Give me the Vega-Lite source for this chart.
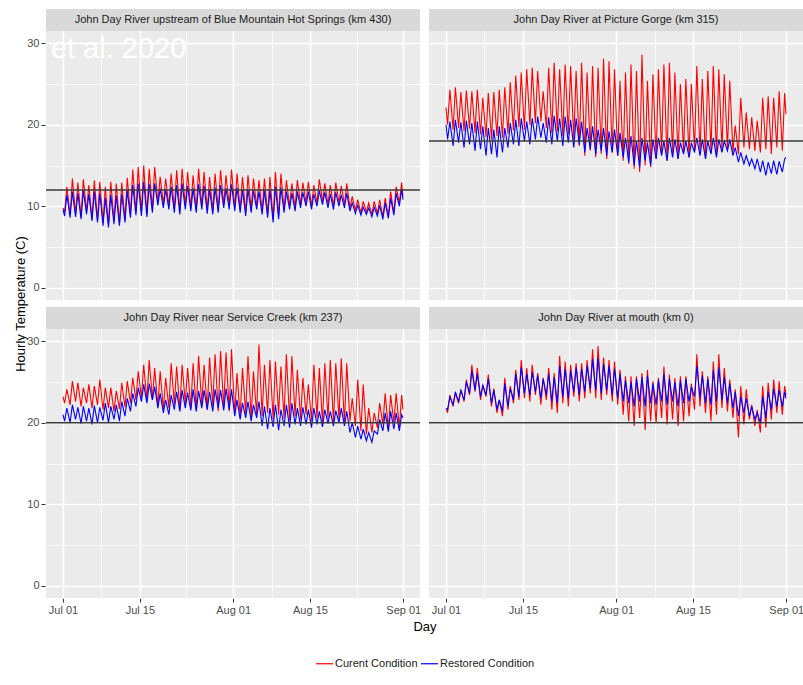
{
"$schema":"https://vega.github.io/schema/vega-lite/v6.json",
"background":"white",
"padding":{"left":14,"top":9,"right":0,"bottom":0},
"datasets":{"pos":[{"f":1,"r":1,"k":1},{"f":2,"r":1,"k":2},{"f":3,"r":2,"k":1},{"f":4,"r":2,"k":2}]},
"data":{"format":{"parse":{"t":"date:'%m-%d %H'"}},"values":[
{"f":1,"site":"John Day River upstream of Blue Mountain Hot Springs (km 430)","std":12,"note":"et al. 2020"},
{"f":2,"site":"John Day River at Picture Gorge (km 315)","std":18},
{"f":3,"site":"John Day River near Service Creek (km 237)","std":20},
{"f":4,"site":"John Day River at mouth (km 0)","std":20},
{"f":1,"c":"C","t":"07-01 00","y":9.8},
{"f":1,"c":"C","t":"07-01 07","y":9.3},{"f":1,"c":"C","t":"07-01 17","y":12.4},
{"f":1,"c":"C","t":"07-02 07","y":8.9},{"f":1,"c":"C","t":"07-02 17","y":13.4},
{"f":1,"c":"C","t":"07-03 07","y":9.0},{"f":1,"c":"C","t":"07-03 17","y":12.9},
{"f":1,"c":"C","t":"07-04 07","y":8.7},{"f":1,"c":"C","t":"07-04 17","y":13.3},
{"f":1,"c":"C","t":"07-05 07","y":9.4},{"f":1,"c":"C","t":"07-05 17","y":12.6},
{"f":1,"c":"C","t":"07-06 07","y":8.5},{"f":1,"c":"C","t":"07-06 17","y":13.2},
{"f":1,"c":"C","t":"07-07 07","y":8.3},{"f":1,"c":"C","t":"07-07 17","y":13.0},
{"f":1,"c":"C","t":"07-08 07","y":8.0},{"f":1,"c":"C","t":"07-08 17","y":12.4},
{"f":1,"c":"C","t":"07-09 07","y":7.8},{"f":1,"c":"C","t":"07-09 17","y":13.0},
{"f":1,"c":"C","t":"07-10 07","y":8.2},{"f":1,"c":"C","t":"07-10 17","y":12.8},
{"f":1,"c":"C","t":"07-11 07","y":7.9},{"f":1,"c":"C","t":"07-11 17","y":12.9},
{"f":1,"c":"C","t":"07-12 07","y":8.3},{"f":1,"c":"C","t":"07-12 17","y":13.5},
{"f":1,"c":"C","t":"07-13 07","y":9.0},{"f":1,"c":"C","t":"07-13 17","y":14.5},
{"f":1,"c":"C","t":"07-14 07","y":9.3},{"f":1,"c":"C","t":"07-14 17","y":14.8},
{"f":1,"c":"C","t":"07-15 07","y":9.2},{"f":1,"c":"C","t":"07-15 17","y":15.0},
{"f":1,"c":"C","t":"07-16 07","y":9.0},{"f":1,"c":"C","t":"07-16 17","y":14.6},
{"f":1,"c":"C","t":"07-17 07","y":9.6},{"f":1,"c":"C","t":"07-17 17","y":14.8},
{"f":1,"c":"C","t":"07-18 07","y":10.5},{"f":1,"c":"C","t":"07-18 17","y":13.6},
{"f":1,"c":"C","t":"07-19 07","y":10.2},{"f":1,"c":"C","t":"07-19 17","y":13.4},
{"f":1,"c":"C","t":"07-20 07","y":10.0},{"f":1,"c":"C","t":"07-20 17","y":14.0},
{"f":1,"c":"C","t":"07-21 07","y":9.6},{"f":1,"c":"C","t":"07-21 17","y":14.4},
{"f":1,"c":"C","t":"07-22 07","y":9.4},{"f":1,"c":"C","t":"07-22 17","y":14.6},
{"f":1,"c":"C","t":"07-23 07","y":10.0},{"f":1,"c":"C","t":"07-23 17","y":14.2},
{"f":1,"c":"C","t":"07-24 07","y":9.8},{"f":1,"c":"C","t":"07-24 17","y":13.8},
{"f":1,"c":"C","t":"07-25 07","y":9.6},{"f":1,"c":"C","t":"07-25 17","y":14.6},
{"f":1,"c":"C","t":"07-26 07","y":10.0},{"f":1,"c":"C","t":"07-26 17","y":14.2},
{"f":1,"c":"C","t":"07-27 07","y":9.5},{"f":1,"c":"C","t":"07-27 17","y":13.6},
{"f":1,"c":"C","t":"07-28 07","y":9.4},{"f":1,"c":"C","t":"07-28 17","y":14.0},
{"f":1,"c":"C","t":"07-29 07","y":9.6},{"f":1,"c":"C","t":"07-29 17","y":14.4},
{"f":1,"c":"C","t":"07-30 07","y":10.2},{"f":1,"c":"C","t":"07-30 17","y":13.8},
{"f":1,"c":"C","t":"07-31 07","y":10.0},{"f":1,"c":"C","t":"07-31 17","y":14.5},
{"f":1,"c":"C","t":"08-01 07","y":9.8},{"f":1,"c":"C","t":"08-01 17","y":14.0},
{"f":1,"c":"C","t":"08-02 07","y":9.6},{"f":1,"c":"C","t":"08-02 17","y":13.6},
{"f":1,"c":"C","t":"08-03 07","y":9.2},{"f":1,"c":"C","t":"08-03 17","y":13.8},
{"f":1,"c":"C","t":"08-04 07","y":9.6},{"f":1,"c":"C","t":"08-04 17","y":13.4},
{"f":1,"c":"C","t":"08-05 07","y":10.0},{"f":1,"c":"C","t":"08-05 17","y":13.2},
{"f":1,"c":"C","t":"08-06 07","y":9.4},{"f":1,"c":"C","t":"08-06 17","y":13.4},
{"f":1,"c":"C","t":"08-07 07","y":9.0},{"f":1,"c":"C","t":"08-07 17","y":13.6},
{"f":1,"c":"C","t":"08-08 07","y":8.4},{"f":1,"c":"C","t":"08-08 17","y":14.2},
{"f":1,"c":"C","t":"08-09 07","y":8.8},{"f":1,"c":"C","t":"08-09 17","y":14.0},
{"f":1,"c":"C","t":"08-10 07","y":9.6},{"f":1,"c":"C","t":"08-10 17","y":13.2},
{"f":1,"c":"C","t":"08-11 07","y":10.0},{"f":1,"c":"C","t":"08-11 17","y":12.8},
{"f":1,"c":"C","t":"08-12 07","y":9.8},{"f":1,"c":"C","t":"08-12 17","y":13.2},
{"f":1,"c":"C","t":"08-13 07","y":10.2},{"f":1,"c":"C","t":"08-13 17","y":12.9},
{"f":1,"c":"C","t":"08-14 07","y":10.4},{"f":1,"c":"C","t":"08-14 17","y":13.0},
{"f":1,"c":"C","t":"08-15 07","y":10.0},{"f":1,"c":"C","t":"08-15 17","y":12.6},
{"f":1,"c":"C","t":"08-16 07","y":10.4},{"f":1,"c":"C","t":"08-16 17","y":13.3},
{"f":1,"c":"C","t":"08-17 07","y":10.6},{"f":1,"c":"C","t":"08-17 17","y":12.8},
{"f":1,"c":"C","t":"08-18 07","y":10.2},{"f":1,"c":"C","t":"08-18 17","y":12.6},
{"f":1,"c":"C","t":"08-19 07","y":10.0},{"f":1,"c":"C","t":"08-19 17","y":12.9},
{"f":1,"c":"C","t":"08-20 07","y":10.4},{"f":1,"c":"C","t":"08-20 17","y":12.5},
{"f":1,"c":"C","t":"08-21 07","y":10.2},{"f":1,"c":"C","t":"08-21 17","y":12.8},
{"f":1,"c":"C","t":"08-22 07","y":9.8},{"f":1,"c":"C","t":"08-22 17","y":11.2},
{"f":1,"c":"C","t":"08-23 07","y":9.5},{"f":1,"c":"C","t":"08-23 17","y":10.8},
{"f":1,"c":"C","t":"08-24 07","y":9.2},{"f":1,"c":"C","t":"08-24 17","y":10.6},
{"f":1,"c":"C","t":"08-25 07","y":9.3},{"f":1,"c":"C","t":"08-25 17","y":10.4},
{"f":1,"c":"C","t":"08-26 07","y":9.0},{"f":1,"c":"C","t":"08-26 17","y":10.6},
{"f":1,"c":"C","t":"08-27 07","y":9.1},{"f":1,"c":"C","t":"08-27 17","y":10.8},
{"f":1,"c":"C","t":"08-28 07","y":8.7},{"f":1,"c":"C","t":"08-28 17","y":11.0},
{"f":1,"c":"C","t":"08-29 07","y":8.8},{"f":1,"c":"C","t":"08-29 17","y":11.8},
{"f":1,"c":"C","t":"08-30 07","y":9.2},{"f":1,"c":"C","t":"08-30 17","y":12.4},
{"f":1,"c":"C","t":"08-31 07","y":10.4},{"f":1,"c":"C","t":"08-31 17","y":12.9},
{"f":1,"c":"C","t":"08-31 23","y":11.2},
{"f":1,"c":"R","t":"07-01 00","y":9.6},
{"f":1,"c":"R","t":"07-01 07","y":8.8},{"f":1,"c":"R","t":"07-01 17","y":11.4},
{"f":1,"c":"R","t":"07-02 07","y":8.6},{"f":1,"c":"R","t":"07-02 17","y":11.8},
{"f":1,"c":"R","t":"07-03 07","y":8.7},{"f":1,"c":"R","t":"07-03 17","y":11.6},
{"f":1,"c":"R","t":"07-04 07","y":8.4},{"f":1,"c":"R","t":"07-04 17","y":11.9},
{"f":1,"c":"R","t":"07-05 07","y":9.0},{"f":1,"c":"R","t":"07-05 17","y":11.5},
{"f":1,"c":"R","t":"07-06 07","y":8.2},{"f":1,"c":"R","t":"07-06 17","y":11.8},
{"f":1,"c":"R","t":"07-07 07","y":8.0},{"f":1,"c":"R","t":"07-07 17","y":11.6},
{"f":1,"c":"R","t":"07-08 07","y":7.6},{"f":1,"c":"R","t":"07-08 17","y":11.0},
{"f":1,"c":"R","t":"07-09 07","y":7.4},{"f":1,"c":"R","t":"07-09 17","y":11.4},
{"f":1,"c":"R","t":"07-10 07","y":7.8},{"f":1,"c":"R","t":"07-10 17","y":11.3},
{"f":1,"c":"R","t":"07-11 07","y":7.6},{"f":1,"c":"R","t":"07-11 17","y":11.5},
{"f":1,"c":"R","t":"07-12 07","y":8.0},{"f":1,"c":"R","t":"07-12 17","y":11.9},
{"f":1,"c":"R","t":"07-13 07","y":8.6},{"f":1,"c":"R","t":"07-13 17","y":12.6},
{"f":1,"c":"R","t":"07-14 07","y":8.9},{"f":1,"c":"R","t":"07-14 17","y":12.8},
{"f":1,"c":"R","t":"07-15 07","y":8.8},{"f":1,"c":"R","t":"07-15 17","y":13.0},
{"f":1,"c":"R","t":"07-16 07","y":8.7},{"f":1,"c":"R","t":"07-16 17","y":12.7},
{"f":1,"c":"R","t":"07-17 07","y":9.2},{"f":1,"c":"R","t":"07-17 17","y":12.8},
{"f":1,"c":"R","t":"07-18 07","y":10.1},{"f":1,"c":"R","t":"07-18 17","y":12.2},
{"f":1,"c":"R","t":"07-19 07","y":9.8},{"f":1,"c":"R","t":"07-19 17","y":12.1},
{"f":1,"c":"R","t":"07-20 07","y":9.6},{"f":1,"c":"R","t":"07-20 17","y":12.4},
{"f":1,"c":"R","t":"07-21 07","y":9.2},{"f":1,"c":"R","t":"07-21 17","y":12.6},
{"f":1,"c":"R","t":"07-22 07","y":9.0},{"f":1,"c":"R","t":"07-22 17","y":12.8},
{"f":1,"c":"R","t":"07-23 07","y":9.6},{"f":1,"c":"R","t":"07-23 17","y":12.5},
{"f":1,"c":"R","t":"07-24 07","y":9.4},{"f":1,"c":"R","t":"07-24 17","y":12.2},
{"f":1,"c":"R","t":"07-25 07","y":9.2},{"f":1,"c":"R","t":"07-25 17","y":12.7},
{"f":1,"c":"R","t":"07-26 07","y":9.6},{"f":1,"c":"R","t":"07-26 17","y":12.5},
{"f":1,"c":"R","t":"07-27 07","y":9.1},{"f":1,"c":"R","t":"07-27 17","y":12.1},
{"f":1,"c":"R","t":"07-28 07","y":9.0},{"f":1,"c":"R","t":"07-28 17","y":12.3},
{"f":1,"c":"R","t":"07-29 07","y":9.2},{"f":1,"c":"R","t":"07-29 17","y":12.6},
{"f":1,"c":"R","t":"07-30 07","y":9.8},{"f":1,"c":"R","t":"07-30 17","y":12.2},
{"f":1,"c":"R","t":"07-31 07","y":9.6},{"f":1,"c":"R","t":"07-31 17","y":12.7},
{"f":1,"c":"R","t":"08-01 07","y":9.4},{"f":1,"c":"R","t":"08-01 17","y":12.3},
{"f":1,"c":"R","t":"08-02 07","y":9.2},{"f":1,"c":"R","t":"08-02 17","y":12.0},
{"f":1,"c":"R","t":"08-03 07","y":8.8},{"f":1,"c":"R","t":"08-03 17","y":12.1},
{"f":1,"c":"R","t":"08-04 07","y":9.2},{"f":1,"c":"R","t":"08-04 17","y":11.9},
{"f":1,"c":"R","t":"08-05 07","y":9.6},{"f":1,"c":"R","t":"08-05 17","y":11.8},
{"f":1,"c":"R","t":"08-06 07","y":9.0},{"f":1,"c":"R","t":"08-06 17","y":11.9},
{"f":1,"c":"R","t":"08-07 07","y":8.6},{"f":1,"c":"R","t":"08-07 17","y":12.0},
{"f":1,"c":"R","t":"08-08 07","y":8.0},{"f":1,"c":"R","t":"08-08 17","y":12.4},
{"f":1,"c":"R","t":"08-09 07","y":8.4},{"f":1,"c":"R","t":"08-09 17","y":12.3},
{"f":1,"c":"R","t":"08-10 07","y":9.2},{"f":1,"c":"R","t":"08-10 17","y":11.8},
{"f":1,"c":"R","t":"08-11 07","y":9.6},{"f":1,"c":"R","t":"08-11 17","y":11.6},
{"f":1,"c":"R","t":"08-12 07","y":9.4},{"f":1,"c":"R","t":"08-12 17","y":11.8},
{"f":1,"c":"R","t":"08-13 07","y":9.8},{"f":1,"c":"R","t":"08-13 17","y":11.7},
{"f":1,"c":"R","t":"08-14 07","y":10.0},{"f":1,"c":"R","t":"08-14 17","y":11.8},
{"f":1,"c":"R","t":"08-15 07","y":9.6},{"f":1,"c":"R","t":"08-15 17","y":11.5},
{"f":1,"c":"R","t":"08-16 07","y":10.0},{"f":1,"c":"R","t":"08-16 17","y":11.9},
{"f":1,"c":"R","t":"08-17 07","y":10.2},{"f":1,"c":"R","t":"08-17 17","y":11.7},
{"f":1,"c":"R","t":"08-18 07","y":9.8},{"f":1,"c":"R","t":"08-18 17","y":11.5},
{"f":1,"c":"R","t":"08-19 07","y":9.6},{"f":1,"c":"R","t":"08-19 17","y":11.7},
{"f":1,"c":"R","t":"08-20 07","y":10.0},{"f":1,"c":"R","t":"08-20 17","y":11.4},
{"f":1,"c":"R","t":"08-21 07","y":9.8},{"f":1,"c":"R","t":"08-21 17","y":11.6},
{"f":1,"c":"R","t":"08-22 07","y":9.4},{"f":1,"c":"R","t":"08-22 17","y":10.4},
{"f":1,"c":"R","t":"08-23 07","y":9.1},{"f":1,"c":"R","t":"08-23 17","y":10.1},
{"f":1,"c":"R","t":"08-24 07","y":8.9},{"f":1,"c":"R","t":"08-24 17","y":9.9},
{"f":1,"c":"R","t":"08-25 07","y":9.0},{"f":1,"c":"R","t":"08-25 17","y":9.8},
{"f":1,"c":"R","t":"08-26 07","y":8.7},{"f":1,"c":"R","t":"08-26 17","y":9.9},
{"f":1,"c":"R","t":"08-27 07","y":8.8},{"f":1,"c":"R","t":"08-27 17","y":10.1},
{"f":1,"c":"R","t":"08-28 07","y":8.4},{"f":1,"c":"R","t":"08-28 17","y":10.4},
{"f":1,"c":"R","t":"08-29 07","y":8.5},{"f":1,"c":"R","t":"08-29 17","y":11.0},
{"f":1,"c":"R","t":"08-30 07","y":8.9},{"f":1,"c":"R","t":"08-30 17","y":11.6},
{"f":1,"c":"R","t":"08-31 07","y":10.0},{"f":1,"c":"R","t":"08-31 17","y":12.1},
{"f":1,"c":"R","t":"08-31 23","y":10.8},
{"f":2,"c":"C","t":"07-01 00","y":22.1},
{"f":2,"c":"C","t":"07-01 07","y":20.0},{"f":2,"c":"C","t":"07-01 17","y":24.3},
{"f":2,"c":"C","t":"07-02 07","y":19.4},{"f":2,"c":"C","t":"07-02 17","y":24.6},
{"f":2,"c":"C","t":"07-03 07","y":19.6},{"f":2,"c":"C","t":"07-03 17","y":24.0},
{"f":2,"c":"C","t":"07-04 07","y":19.2},{"f":2,"c":"C","t":"07-04 17","y":24.2},
{"f":2,"c":"C","t":"07-05 07","y":19.5},{"f":2,"c":"C","t":"07-05 17","y":24.1},
{"f":2,"c":"C","t":"07-06 07","y":19.0},{"f":2,"c":"C","t":"07-06 17","y":24.3},
{"f":2,"c":"C","t":"07-07 07","y":18.8},{"f":2,"c":"C","t":"07-07 17","y":23.3},
{"f":2,"c":"C","t":"07-08 07","y":18.5},{"f":2,"c":"C","t":"07-08 17","y":23.9},
{"f":2,"c":"C","t":"07-09 07","y":18.2},{"f":2,"c":"C","t":"07-09 17","y":24.0},
{"f":2,"c":"C","t":"07-10 07","y":18.6},{"f":2,"c":"C","t":"07-10 17","y":24.3},
{"f":2,"c":"C","t":"07-11 07","y":18.4},{"f":2,"c":"C","t":"07-11 17","y":24.6},
{"f":2,"c":"C","t":"07-12 07","y":18.9},{"f":2,"c":"C","t":"07-12 17","y":25.2},
{"f":2,"c":"C","t":"07-13 07","y":19.3},{"f":2,"c":"C","t":"07-13 17","y":26.0},
{"f":2,"c":"C","t":"07-14 07","y":19.7},{"f":2,"c":"C","t":"07-14 17","y":26.4},
{"f":2,"c":"C","t":"07-15 07","y":19.4},{"f":2,"c":"C","t":"07-15 17","y":26.8},
{"f":2,"c":"C","t":"07-16 07","y":19.9},{"f":2,"c":"C","t":"07-16 17","y":27.0},
{"f":2,"c":"C","t":"07-17 07","y":20.2},{"f":2,"c":"C","t":"07-17 17","y":26.6},
{"f":2,"c":"C","t":"07-18 07","y":20.4},{"f":2,"c":"C","t":"07-18 17","y":24.1},
{"f":2,"c":"C","t":"07-19 07","y":19.6},{"f":2,"c":"C","t":"07-19 17","y":27.0},
{"f":2,"c":"C","t":"07-20 07","y":19.0},{"f":2,"c":"C","t":"07-20 17","y":27.6},
{"f":2,"c":"C","t":"07-21 07","y":19.2},{"f":2,"c":"C","t":"07-21 17","y":26.8},
{"f":2,"c":"C","t":"07-22 07","y":18.6},{"f":2,"c":"C","t":"07-22 17","y":27.4},
{"f":2,"c":"C","t":"07-23 07","y":18.8},{"f":2,"c":"C","t":"07-23 17","y":27.2},
{"f":2,"c":"C","t":"07-24 07","y":18.2},{"f":2,"c":"C","t":"07-24 17","y":26.6},
{"f":2,"c":"C","t":"07-25 07","y":17.4},{"f":2,"c":"C","t":"07-25 17","y":27.6},
{"f":2,"c":"C","t":"07-26 07","y":16.2},{"f":2,"c":"C","t":"07-26 17","y":26.4},
{"f":2,"c":"C","t":"07-27 07","y":16.8},{"f":2,"c":"C","t":"07-27 17","y":27.2},
{"f":2,"c":"C","t":"07-28 07","y":16.0},{"f":2,"c":"C","t":"07-28 17","y":27.0},
{"f":2,"c":"C","t":"07-29 07","y":16.4},{"f":2,"c":"C","t":"07-29 17","y":28.1},
{"f":2,"c":"C","t":"07-30 07","y":15.8},{"f":2,"c":"C","t":"07-30 17","y":27.8},
{"f":2,"c":"C","t":"07-31 07","y":16.6},{"f":2,"c":"C","t":"07-31 17","y":26.8},
{"f":2,"c":"C","t":"08-01 07","y":16.2},{"f":2,"c":"C","t":"08-01 17","y":25.4},
{"f":2,"c":"C","t":"08-02 07","y":15.6},{"f":2,"c":"C","t":"08-02 17","y":26.4},
{"f":2,"c":"C","t":"08-03 07","y":15.2},{"f":2,"c":"C","t":"08-03 17","y":27.4},
{"f":2,"c":"C","t":"08-04 07","y":14.6},{"f":2,"c":"C","t":"08-04 17","y":26.6},
{"f":2,"c":"C","t":"08-05 07","y":14.2},{"f":2,"c":"C","t":"08-05 17","y":28.6},
{"f":2,"c":"C","t":"08-06 07","y":15.0},{"f":2,"c":"C","t":"08-06 17","y":25.4},
{"f":2,"c":"C","t":"08-07 07","y":14.8},{"f":2,"c":"C","t":"08-07 17","y":26.2},
{"f":2,"c":"C","t":"08-08 07","y":15.8},{"f":2,"c":"C","t":"08-08 17","y":26.8},
{"f":2,"c":"C","t":"08-09 07","y":16.4},{"f":2,"c":"C","t":"08-09 17","y":27.4},
{"f":2,"c":"C","t":"08-10 07","y":15.6},{"f":2,"c":"C","t":"08-10 17","y":27.6},
{"f":2,"c":"C","t":"08-11 07","y":16.2},{"f":2,"c":"C","t":"08-11 17","y":26.4},
{"f":2,"c":"C","t":"08-12 07","y":15.8},{"f":2,"c":"C","t":"08-12 17","y":25.0},
{"f":2,"c":"C","t":"08-13 07","y":16.6},{"f":2,"c":"C","t":"08-13 17","y":25.6},
{"f":2,"c":"C","t":"08-14 07","y":16.0},{"f":2,"c":"C","t":"08-14 17","y":25.0},
{"f":2,"c":"C","t":"08-15 07","y":16.8},{"f":2,"c":"C","t":"08-15 17","y":27.2},
{"f":2,"c":"C","t":"08-16 07","y":16.4},{"f":2,"c":"C","t":"08-16 17","y":25.6},
{"f":2,"c":"C","t":"08-17 07","y":15.8},{"f":2,"c":"C","t":"08-17 17","y":26.6},
{"f":2,"c":"C","t":"08-18 07","y":16.6},{"f":2,"c":"C","t":"08-18 17","y":27.2},
{"f":2,"c":"C","t":"08-19 07","y":16.2},{"f":2,"c":"C","t":"08-19 17","y":26.8},
{"f":2,"c":"C","t":"08-20 07","y":16.8},{"f":2,"c":"C","t":"08-20 17","y":26.2},
{"f":2,"c":"C","t":"08-21 07","y":17.0},{"f":2,"c":"C","t":"08-21 17","y":25.4},
{"f":2,"c":"C","t":"08-22 07","y":16.6},{"f":2,"c":"C","t":"08-22 17","y":19.9},
{"f":2,"c":"C","t":"08-23 07","y":16.4},{"f":2,"c":"C","t":"08-23 17","y":23.3},
{"f":2,"c":"C","t":"08-24 07","y":17.2},{"f":2,"c":"C","t":"08-24 17","y":21.5},
{"f":2,"c":"C","t":"08-25 07","y":17.0},{"f":2,"c":"C","t":"08-25 17","y":20.9},
{"f":2,"c":"C","t":"08-26 07","y":16.8},{"f":2,"c":"C","t":"08-26 17","y":20.5},
{"f":2,"c":"C","t":"08-27 07","y":16.6},{"f":2,"c":"C","t":"08-27 17","y":23.3},
{"f":2,"c":"C","t":"08-28 07","y":17.0},{"f":2,"c":"C","t":"08-28 17","y":23.5},
{"f":2,"c":"C","t":"08-29 07","y":16.4},{"f":2,"c":"C","t":"08-29 17","y":23.3},
{"f":2,"c":"C","t":"08-30 07","y":17.2},{"f":2,"c":"C","t":"08-30 17","y":24.1},
{"f":2,"c":"C","t":"08-31 07","y":16.8},{"f":2,"c":"C","t":"08-31 17","y":23.9},
{"f":2,"c":"C","t":"08-31 23","y":21.3},
{"f":2,"c":"R","t":"07-01 00","y":20.0},
{"f":2,"c":"R","t":"07-01 07","y":18.2},{"f":2,"c":"R","t":"07-01 17","y":20.4},
{"f":2,"c":"R","t":"07-02 07","y":17.4},{"f":2,"c":"R","t":"07-02 17","y":20.6},
{"f":2,"c":"R","t":"07-03 07","y":17.8},{"f":2,"c":"R","t":"07-03 17","y":20.3},
{"f":2,"c":"R","t":"07-04 07","y":17.2},{"f":2,"c":"R","t":"07-04 17","y":20.5},
{"f":2,"c":"R","t":"07-05 07","y":17.6},{"f":2,"c":"R","t":"07-05 17","y":20.2},
{"f":2,"c":"R","t":"07-06 07","y":16.8},{"f":2,"c":"R","t":"07-06 17","y":20.4},
{"f":2,"c":"R","t":"07-07 07","y":17.0},{"f":2,"c":"R","t":"07-07 17","y":19.8},
{"f":2,"c":"R","t":"07-08 07","y":16.2},{"f":2,"c":"R","t":"07-08 17","y":19.6},
{"f":2,"c":"R","t":"07-09 07","y":16.4},{"f":2,"c":"R","t":"07-09 17","y":19.4},
{"f":2,"c":"R","t":"07-10 07","y":16.0},{"f":2,"c":"R","t":"07-10 17","y":19.8},
{"f":2,"c":"R","t":"07-11 07","y":16.6},{"f":2,"c":"R","t":"07-11 17","y":19.6},
{"f":2,"c":"R","t":"07-12 07","y":17.2},{"f":2,"c":"R","t":"07-12 17","y":20.2},
{"f":2,"c":"R","t":"07-13 07","y":17.6},{"f":2,"c":"R","t":"07-13 17","y":20.6},
{"f":2,"c":"R","t":"07-14 07","y":17.4},{"f":2,"c":"R","t":"07-14 17","y":20.8},
{"f":2,"c":"R","t":"07-15 07","y":18.0},{"f":2,"c":"R","t":"07-15 17","y":20.4},
{"f":2,"c":"R","t":"07-16 07","y":17.6},{"f":2,"c":"R","t":"07-16 17","y":20.8},
{"f":2,"c":"R","t":"07-17 07","y":18.2},{"f":2,"c":"R","t":"07-17 17","y":21.0},
{"f":2,"c":"R","t":"07-18 07","y":18.4},{"f":2,"c":"R","t":"07-18 17","y":20.2},
{"f":2,"c":"R","t":"07-19 07","y":17.8},{"f":2,"c":"R","t":"07-19 17","y":20.9},
{"f":2,"c":"R","t":"07-20 07","y":17.6},{"f":2,"c":"R","t":"07-20 17","y":21.1},
{"f":2,"c":"R","t":"07-21 07","y":18.0},{"f":2,"c":"R","t":"07-21 17","y":20.8},
{"f":2,"c":"R","t":"07-22 07","y":17.4},{"f":2,"c":"R","t":"07-22 17","y":21.0},
{"f":2,"c":"R","t":"07-23 07","y":17.8},{"f":2,"c":"R","t":"07-23 17","y":20.6},
{"f":2,"c":"R","t":"07-24 07","y":17.2},{"f":2,"c":"R","t":"07-24 17","y":20.8},
{"f":2,"c":"R","t":"07-25 07","y":17.6},{"f":2,"c":"R","t":"07-25 17","y":20.4},
{"f":2,"c":"R","t":"07-26 07","y":16.6},{"f":2,"c":"R","t":"07-26 17","y":19.6},
{"f":2,"c":"R","t":"07-27 07","y":17.0},{"f":2,"c":"R","t":"07-27 17","y":19.8},
{"f":2,"c":"R","t":"07-28 07","y":16.4},{"f":2,"c":"R","t":"07-28 17","y":19.4},
{"f":2,"c":"R","t":"07-29 07","y":16.8},{"f":2,"c":"R","t":"07-29 17","y":19.6},
{"f":2,"c":"R","t":"07-30 07","y":16.2},{"f":2,"c":"R","t":"07-30 17","y":19.2},
{"f":2,"c":"R","t":"07-31 07","y":16.6},{"f":2,"c":"R","t":"07-31 17","y":19.4},
{"f":2,"c":"R","t":"08-01 07","y":16.2},{"f":2,"c":"R","t":"08-01 17","y":19.0},
{"f":2,"c":"R","t":"08-02 07","y":16.0},{"f":2,"c":"R","t":"08-02 17","y":18.4},
{"f":2,"c":"R","t":"08-03 07","y":15.4},{"f":2,"c":"R","t":"08-03 17","y":18.6},
{"f":2,"c":"R","t":"08-04 07","y":15.0},{"f":2,"c":"R","t":"08-04 17","y":18.0},
{"f":2,"c":"R","t":"08-05 07","y":14.8},{"f":2,"c":"R","t":"08-05 17","y":18.4},
{"f":2,"c":"R","t":"08-06 07","y":15.6},{"f":2,"c":"R","t":"08-06 17","y":17.8},
{"f":2,"c":"R","t":"08-07 07","y":15.0},{"f":2,"c":"R","t":"08-07 17","y":18.2},
{"f":2,"c":"R","t":"08-08 07","y":15.8},{"f":2,"c":"R","t":"08-08 17","y":18.4},
{"f":2,"c":"R","t":"08-09 07","y":16.2},{"f":2,"c":"R","t":"08-09 17","y":18.0},
{"f":2,"c":"R","t":"08-10 07","y":15.6},{"f":2,"c":"R","t":"08-10 17","y":18.4},
{"f":2,"c":"R","t":"08-11 07","y":16.0},{"f":2,"c":"R","t":"08-11 17","y":18.2},
{"f":2,"c":"R","t":"08-12 07","y":15.8},{"f":2,"c":"R","t":"08-12 17","y":17.8},
{"f":2,"c":"R","t":"08-13 07","y":16.4},{"f":2,"c":"R","t":"08-13 17","y":18.0},
{"f":2,"c":"R","t":"08-14 07","y":16.0},{"f":2,"c":"R","t":"08-14 17","y":17.8},
{"f":2,"c":"R","t":"08-15 07","y":16.6},{"f":2,"c":"R","t":"08-15 17","y":18.4},
{"f":2,"c":"R","t":"08-16 07","y":16.2},{"f":2,"c":"R","t":"08-16 17","y":18.2},
{"f":2,"c":"R","t":"08-17 07","y":15.8},{"f":2,"c":"R","t":"08-17 17","y":18.0},
{"f":2,"c":"R","t":"08-18 07","y":16.4},{"f":2,"c":"R","t":"08-18 17","y":18.4},
{"f":2,"c":"R","t":"08-19 07","y":16.0},{"f":2,"c":"R","t":"08-19 17","y":18.2},
{"f":2,"c":"R","t":"08-20 07","y":16.6},{"f":2,"c":"R","t":"08-20 17","y":18.0},
{"f":2,"c":"R","t":"08-21 07","y":16.8},{"f":2,"c":"R","t":"08-21 17","y":18.2},
{"f":2,"c":"R","t":"08-22 07","y":16.2},{"f":2,"c":"R","t":"08-22 17","y":17.2},
{"f":2,"c":"R","t":"08-23 07","y":15.4},{"f":2,"c":"R","t":"08-23 17","y":16.6},
{"f":2,"c":"R","t":"08-24 07","y":15.2},{"f":2,"c":"R","t":"08-24 17","y":16.2},
{"f":2,"c":"R","t":"08-25 07","y":15.0},{"f":2,"c":"R","t":"08-25 17","y":15.8},
{"f":2,"c":"R","t":"08-26 07","y":14.6},{"f":2,"c":"R","t":"08-26 17","y":15.8},
{"f":2,"c":"R","t":"08-27 07","y":14.2},{"f":2,"c":"R","t":"08-27 17","y":15.6},
{"f":2,"c":"R","t":"08-28 07","y":13.8},{"f":2,"c":"R","t":"08-28 17","y":15.4},
{"f":2,"c":"R","t":"08-29 07","y":14.0},{"f":2,"c":"R","t":"08-29 17","y":15.6},
{"f":2,"c":"R","t":"08-30 07","y":13.9},{"f":2,"c":"R","t":"08-30 17","y":15.5},
{"f":2,"c":"R","t":"08-31 07","y":14.2},{"f":2,"c":"R","t":"08-31 17","y":15.8},
{"f":2,"c":"R","t":"08-31 23","y":16.0},
{"f":3,"c":"C","t":"07-01 00","y":23.2},
{"f":3,"c":"C","t":"07-01 07","y":22.4},{"f":3,"c":"C","t":"07-01 17","y":24.1},
{"f":3,"c":"C","t":"07-02 07","y":22.2},{"f":3,"c":"C","t":"07-02 17","y":25.1},
{"f":3,"c":"C","t":"07-03 07","y":22.6},{"f":3,"c":"C","t":"07-03 17","y":24.9},
{"f":3,"c":"C","t":"07-04 07","y":22.0},{"f":3,"c":"C","t":"07-04 17","y":24.3},
{"f":3,"c":"C","t":"07-05 07","y":22.4},{"f":3,"c":"C","t":"07-05 17","y":24.7},
{"f":3,"c":"C","t":"07-06 07","y":21.8},{"f":3,"c":"C","t":"07-06 17","y":24.5},
{"f":3,"c":"C","t":"07-07 07","y":22.2},{"f":3,"c":"C","t":"07-07 17","y":25.3},
{"f":3,"c":"C","t":"07-08 07","y":21.6},{"f":3,"c":"C","t":"07-08 17","y":24.3},
{"f":3,"c":"C","t":"07-09 07","y":21.8},{"f":3,"c":"C","t":"07-09 17","y":24.3},
{"f":3,"c":"C","t":"07-10 07","y":21.4},{"f":3,"c":"C","t":"07-10 17","y":23.9},
{"f":3,"c":"C","t":"07-11 07","y":21.7},{"f":3,"c":"C","t":"07-11 17","y":24.9},
{"f":3,"c":"C","t":"07-12 07","y":21.9},{"f":3,"c":"C","t":"07-12 17","y":25.1},
{"f":3,"c":"C","t":"07-13 07","y":22.4},{"f":3,"c":"C","t":"07-13 17","y":25.5},
{"f":3,"c":"C","t":"07-14 07","y":22.8},{"f":3,"c":"C","t":"07-14 17","y":26.3},
{"f":3,"c":"C","t":"07-15 07","y":23.1},{"f":3,"c":"C","t":"07-15 17","y":27.1},
{"f":3,"c":"C","t":"07-16 07","y":22.7},{"f":3,"c":"C","t":"07-16 17","y":27.7},
{"f":3,"c":"C","t":"07-17 07","y":22.9},{"f":3,"c":"C","t":"07-17 17","y":26.7},
{"f":3,"c":"C","t":"07-18 07","y":22.0},{"f":3,"c":"C","t":"07-18 17","y":26.3},
{"f":3,"c":"C","t":"07-19 07","y":21.6},{"f":3,"c":"C","t":"07-19 17","y":25.5},
{"f":3,"c":"C","t":"07-20 07","y":21.8},{"f":3,"c":"C","t":"07-20 17","y":27.3},
{"f":3,"c":"C","t":"07-21 07","y":22.2},{"f":3,"c":"C","t":"07-21 17","y":26.9},
{"f":3,"c":"C","t":"07-22 07","y":21.6},{"f":3,"c":"C","t":"07-22 17","y":27.1},
{"f":3,"c":"C","t":"07-23 07","y":22.4},{"f":3,"c":"C","t":"07-23 17","y":26.7},
{"f":3,"c":"C","t":"07-24 07","y":21.8},{"f":3,"c":"C","t":"07-24 17","y":27.3},
{"f":3,"c":"C","t":"07-25 07","y":21.5},{"f":3,"c":"C","t":"07-25 17","y":28.2},
{"f":3,"c":"C","t":"07-26 07","y":22.2},{"f":3,"c":"C","t":"07-26 17","y":27.1},
{"f":3,"c":"C","t":"07-27 07","y":21.6},{"f":3,"c":"C","t":"07-27 17","y":28.0},
{"f":3,"c":"C","t":"07-28 07","y":22.0},{"f":3,"c":"C","t":"07-28 17","y":28.4},
{"f":3,"c":"C","t":"07-29 07","y":21.4},{"f":3,"c":"C","t":"07-29 17","y":28.8},
{"f":3,"c":"C","t":"07-30 07","y":21.8},{"f":3,"c":"C","t":"07-30 17","y":28.6},
{"f":3,"c":"C","t":"07-31 07","y":21.4},{"f":3,"c":"C","t":"07-31 17","y":29.0},
{"f":3,"c":"C","t":"08-01 07","y":21.0},{"f":3,"c":"C","t":"08-01 17","y":26.1},
{"f":3,"c":"C","t":"08-02 07","y":20.7},{"f":3,"c":"C","t":"08-02 17","y":26.7},
{"f":3,"c":"C","t":"08-03 07","y":21.1},{"f":3,"c":"C","t":"08-03 17","y":28.2},
{"f":3,"c":"C","t":"08-04 07","y":20.6},{"f":3,"c":"C","t":"08-04 17","y":26.3},
{"f":3,"c":"C","t":"08-05 07","y":21.0},{"f":3,"c":"C","t":"08-05 17","y":29.6},
{"f":3,"c":"C","t":"08-06 07","y":20.8},{"f":3,"c":"C","t":"08-06 17","y":27.1},
{"f":3,"c":"C","t":"08-07 07","y":21.2},{"f":3,"c":"C","t":"08-07 17","y":27.7},
{"f":3,"c":"C","t":"08-08 07","y":20.4},{"f":3,"c":"C","t":"08-08 17","y":27.5},
{"f":3,"c":"C","t":"08-09 07","y":21.0},{"f":3,"c":"C","t":"08-09 17","y":26.9},
{"f":3,"c":"C","t":"08-10 07","y":20.6},{"f":3,"c":"C","t":"08-10 17","y":28.4},
{"f":3,"c":"C","t":"08-11 07","y":20.3},{"f":3,"c":"C","t":"08-11 17","y":28.2},
{"f":3,"c":"C","t":"08-12 07","y":20.8},{"f":3,"c":"C","t":"08-12 17","y":26.5},
{"f":3,"c":"C","t":"08-13 07","y":20.4},{"f":3,"c":"C","t":"08-13 17","y":25.5},
{"f":3,"c":"C","t":"08-14 07","y":21.0},{"f":3,"c":"C","t":"08-14 17","y":24.7},
{"f":3,"c":"C","t":"08-15 07","y":20.2},{"f":3,"c":"C","t":"08-15 17","y":27.1},
{"f":3,"c":"C","t":"08-16 07","y":20.6},{"f":3,"c":"C","t":"08-16 17","y":26.7},
{"f":3,"c":"C","t":"08-17 07","y":19.9},{"f":3,"c":"C","t":"08-17 17","y":27.3},
{"f":3,"c":"C","t":"08-18 07","y":20.5},{"f":3,"c":"C","t":"08-18 17","y":27.7},
{"f":3,"c":"C","t":"08-19 07","y":20.0},{"f":3,"c":"C","t":"08-19 17","y":27.3},
{"f":3,"c":"C","t":"08-20 07","y":20.4},{"f":3,"c":"C","t":"08-20 17","y":27.9},
{"f":3,"c":"C","t":"08-21 07","y":19.8},{"f":3,"c":"C","t":"08-21 17","y":27.3},
{"f":3,"c":"C","t":"08-22 07","y":20.2},{"f":3,"c":"C","t":"08-22 17","y":23.0},
{"f":3,"c":"C","t":"08-23 07","y":19.6},{"f":3,"c":"C","t":"08-23 17","y":25.3},
{"f":3,"c":"C","t":"08-24 07","y":19.0},{"f":3,"c":"C","t":"08-24 17","y":24.7},
{"f":3,"c":"C","t":"08-25 07","y":18.6},{"f":3,"c":"C","t":"08-25 17","y":21.8},
{"f":3,"c":"C","t":"08-26 07","y":18.8},{"f":3,"c":"C","t":"08-26 17","y":21.2},
{"f":3,"c":"C","t":"08-27 07","y":19.4},{"f":3,"c":"C","t":"08-27 17","y":22.4},
{"f":3,"c":"C","t":"08-28 07","y":19.8},{"f":3,"c":"C","t":"08-28 17","y":23.6},
{"f":3,"c":"C","t":"08-29 07","y":19.2},{"f":3,"c":"C","t":"08-29 17","y":23.4},
{"f":3,"c":"C","t":"08-30 07","y":20.0},{"f":3,"c":"C","t":"08-30 17","y":23.6},
{"f":3,"c":"C","t":"08-31 07","y":19.4},{"f":3,"c":"C","t":"08-31 17","y":23.4},
{"f":3,"c":"C","t":"08-31 23","y":21.6},
{"f":3,"c":"R","t":"07-01 00","y":21.0},
{"f":3,"c":"R","t":"07-01 07","y":20.2},{"f":3,"c":"R","t":"07-01 17","y":21.8},
{"f":3,"c":"R","t":"07-02 07","y":20.0},{"f":3,"c":"R","t":"07-02 17","y":22.2},
{"f":3,"c":"R","t":"07-03 07","y":20.4},{"f":3,"c":"R","t":"07-03 17","y":21.9},
{"f":3,"c":"R","t":"07-04 07","y":19.9},{"f":3,"c":"R","t":"07-04 17","y":22.0},
{"f":3,"c":"R","t":"07-05 07","y":20.2},{"f":3,"c":"R","t":"07-05 17","y":21.8},
{"f":3,"c":"R","t":"07-06 07","y":19.8},{"f":3,"c":"R","t":"07-06 17","y":22.1},
{"f":3,"c":"R","t":"07-07 07","y":20.0},{"f":3,"c":"R","t":"07-07 17","y":21.9},
{"f":3,"c":"R","t":"07-08 07","y":20.3},{"f":3,"c":"R","t":"07-08 17","y":22.4},
{"f":3,"c":"R","t":"07-09 07","y":20.0},{"f":3,"c":"R","t":"07-09 17","y":22.0},
{"f":3,"c":"R","t":"07-10 07","y":20.4},{"f":3,"c":"R","t":"07-10 17","y":22.2},
{"f":3,"c":"R","t":"07-11 07","y":20.2},{"f":3,"c":"R","t":"07-11 17","y":22.6},
{"f":3,"c":"R","t":"07-12 07","y":20.8},{"f":3,"c":"R","t":"07-12 17","y":23.0},
{"f":3,"c":"R","t":"07-13 07","y":21.4},{"f":3,"c":"R","t":"07-13 17","y":23.6},
{"f":3,"c":"R","t":"07-14 07","y":22.0},{"f":3,"c":"R","t":"07-14 17","y":24.3},
{"f":3,"c":"R","t":"07-15 07","y":22.6},{"f":3,"c":"R","t":"07-15 17","y":24.7},
{"f":3,"c":"R","t":"07-16 07","y":22.4},{"f":3,"c":"R","t":"07-16 17","y":24.8},
{"f":3,"c":"R","t":"07-17 07","y":22.8},{"f":3,"c":"R","t":"07-17 17","y":24.4},
{"f":3,"c":"R","t":"07-18 07","y":21.8},{"f":3,"c":"R","t":"07-18 17","y":23.6},
{"f":3,"c":"R","t":"07-19 07","y":21.2},{"f":3,"c":"R","t":"07-19 17","y":22.8},
{"f":3,"c":"R","t":"07-20 07","y":21.0},{"f":3,"c":"R","t":"07-20 17","y":23.4},
{"f":3,"c":"R","t":"07-21 07","y":21.6},{"f":3,"c":"R","t":"07-21 17","y":23.8},
{"f":3,"c":"R","t":"07-22 07","y":21.4},{"f":3,"c":"R","t":"07-22 17","y":24.0},
{"f":3,"c":"R","t":"07-23 07","y":21.8},{"f":3,"c":"R","t":"07-23 17","y":23.7},
{"f":3,"c":"R","t":"07-24 07","y":21.5},{"f":3,"c":"R","t":"07-24 17","y":24.1},
{"f":3,"c":"R","t":"07-25 07","y":21.4},{"f":3,"c":"R","t":"07-25 17","y":23.9},
{"f":3,"c":"R","t":"07-26 07","y":21.8},{"f":3,"c":"R","t":"07-26 17","y":24.0},
{"f":3,"c":"R","t":"07-27 07","y":21.6},{"f":3,"c":"R","t":"07-27 17","y":23.8},
{"f":3,"c":"R","t":"07-28 07","y":21.4},{"f":3,"c":"R","t":"07-28 17","y":24.1},
{"f":3,"c":"R","t":"07-29 07","y":21.8},{"f":3,"c":"R","t":"07-29 17","y":24.0},
{"f":3,"c":"R","t":"07-30 07","y":21.5},{"f":3,"c":"R","t":"07-30 17","y":24.2},
{"f":3,"c":"R","t":"07-31 07","y":21.6},{"f":3,"c":"R","t":"07-31 17","y":24.1},
{"f":3,"c":"R","t":"08-01 07","y":20.8},{"f":3,"c":"R","t":"08-01 17","y":22.8},
{"f":3,"c":"R","t":"08-02 07","y":20.4},{"f":3,"c":"R","t":"08-02 17","y":22.4},
{"f":3,"c":"R","t":"08-03 07","y":20.6},{"f":3,"c":"R","t":"08-03 17","y":22.6},
{"f":3,"c":"R","t":"08-04 07","y":20.2},{"f":3,"c":"R","t":"08-04 17","y":22.2},
{"f":3,"c":"R","t":"08-05 07","y":20.6},{"f":3,"c":"R","t":"08-05 17","y":22.6},
{"f":3,"c":"R","t":"08-06 07","y":19.6},{"f":3,"c":"R","t":"08-06 17","y":22.0},
{"f":3,"c":"R","t":"08-07 07","y":19.2},{"f":3,"c":"R","t":"08-07 17","y":21.8},
{"f":3,"c":"R","t":"08-08 07","y":19.5},{"f":3,"c":"R","t":"08-08 17","y":22.2},
{"f":3,"c":"R","t":"08-09 07","y":19.1},{"f":3,"c":"R","t":"08-09 17","y":21.6},
{"f":3,"c":"R","t":"08-10 07","y":19.6},{"f":3,"c":"R","t":"08-10 17","y":22.2},
{"f":3,"c":"R","t":"08-11 07","y":19.4},{"f":3,"c":"R","t":"08-11 17","y":22.4},
{"f":3,"c":"R","t":"08-12 07","y":19.8},{"f":3,"c":"R","t":"08-12 17","y":21.8},
{"f":3,"c":"R","t":"08-13 07","y":19.6},{"f":3,"c":"R","t":"08-13 17","y":21.9},
{"f":3,"c":"R","t":"08-14 07","y":19.8},{"f":3,"c":"R","t":"08-14 17","y":21.6},
{"f":3,"c":"R","t":"08-15 07","y":19.4},{"f":3,"c":"R","t":"08-15 17","y":21.8},
{"f":3,"c":"R","t":"08-16 07","y":19.8},{"f":3,"c":"R","t":"08-16 17","y":21.4},
{"f":3,"c":"R","t":"08-17 07","y":19.5},{"f":3,"c":"R","t":"08-17 17","y":21.6},
{"f":3,"c":"R","t":"08-18 07","y":19.9},{"f":3,"c":"R","t":"08-18 17","y":21.4},
{"f":3,"c":"R","t":"08-19 07","y":19.6},{"f":3,"c":"R","t":"08-19 17","y":21.5},
{"f":3,"c":"R","t":"08-20 07","y":20.0},{"f":3,"c":"R","t":"08-20 17","y":21.8},
{"f":3,"c":"R","t":"08-21 07","y":19.6},{"f":3,"c":"R","t":"08-21 17","y":21.4},
{"f":3,"c":"R","t":"08-22 07","y":18.8},{"f":3,"c":"R","t":"08-22 17","y":20.0},
{"f":3,"c":"R","t":"08-23 07","y":18.2},{"f":3,"c":"R","t":"08-23 17","y":19.6},
{"f":3,"c":"R","t":"08-24 07","y":18.0},{"f":3,"c":"R","t":"08-24 17","y":19.2},
{"f":3,"c":"R","t":"08-25 07","y":17.8},{"f":3,"c":"R","t":"08-25 17","y":18.8},
{"f":3,"c":"R","t":"08-26 07","y":17.6},{"f":3,"c":"R","t":"08-26 17","y":19.0},
{"f":3,"c":"R","t":"08-27 07","y":18.6},{"f":3,"c":"R","t":"08-27 17","y":20.4},
{"f":3,"c":"R","t":"08-28 07","y":19.0},{"f":3,"c":"R","t":"08-28 17","y":21.2},
{"f":3,"c":"R","t":"08-29 07","y":18.9},{"f":3,"c":"R","t":"08-29 17","y":21.4},
{"f":3,"c":"R","t":"08-30 07","y":19.2},{"f":3,"c":"R","t":"08-30 17","y":21.2},
{"f":3,"c":"R","t":"08-31 07","y":19.0},{"f":3,"c":"R","t":"08-31 17","y":21.0},
{"f":3,"c":"R","t":"08-31 23","y":20.6},
{"f":4,"c":"C","t":"07-01 00","y":21.6},
{"f":4,"c":"C","t":"07-01 07","y":21.3},{"f":4,"c":"C","t":"07-01 17","y":23.4},
{"f":4,"c":"C","t":"07-02 07","y":22.0},{"f":4,"c":"C","t":"07-02 17","y":23.6},
{"f":4,"c":"C","t":"07-03 07","y":22.4},{"f":4,"c":"C","t":"07-03 17","y":24.0},
{"f":4,"c":"C","t":"07-04 07","y":22.6},{"f":4,"c":"C","t":"07-04 17","y":25.3},
{"f":4,"c":"C","t":"07-05 07","y":23.4},{"f":4,"c":"C","t":"07-05 17","y":27.1},
{"f":4,"c":"C","t":"07-06 07","y":23.8},{"f":4,"c":"C","t":"07-06 17","y":26.7},
{"f":4,"c":"C","t":"07-07 07","y":22.8},{"f":4,"c":"C","t":"07-07 17","y":24.6},
{"f":4,"c":"C","t":"07-08 07","y":23.2},{"f":4,"c":"C","t":"07-08 17","y":25.9},
{"f":4,"c":"C","t":"07-09 07","y":22.0},{"f":4,"c":"C","t":"07-09 17","y":24.2},
{"f":4,"c":"C","t":"07-10 07","y":21.2},{"f":4,"c":"C","t":"07-10 17","y":22.8},
{"f":4,"c":"C","t":"07-11 07","y":20.8},{"f":4,"c":"C","t":"07-11 17","y":25.5},
{"f":4,"c":"C","t":"07-12 07","y":21.6},{"f":4,"c":"C","t":"07-12 17","y":24.5},
{"f":4,"c":"C","t":"07-13 07","y":22.4},{"f":4,"c":"C","t":"07-13 17","y":26.5},
{"f":4,"c":"C","t":"07-14 07","y":22.8},{"f":4,"c":"C","t":"07-14 17","y":27.7},
{"f":4,"c":"C","t":"07-15 07","y":23.0},{"f":4,"c":"C","t":"07-15 17","y":26.7},
{"f":4,"c":"C","t":"07-16 07","y":22.6},{"f":4,"c":"C","t":"07-16 17","y":27.1},
{"f":4,"c":"C","t":"07-17 07","y":23.4},{"f":4,"c":"C","t":"07-17 17","y":26.1},
{"f":4,"c":"C","t":"07-18 07","y":22.2},{"f":4,"c":"C","t":"07-18 17","y":25.5},
{"f":4,"c":"C","t":"07-19 07","y":22.8},{"f":4,"c":"C","t":"07-19 17","y":26.7},
{"f":4,"c":"C","t":"07-20 07","y":21.6},{"f":4,"c":"C","t":"07-20 17","y":26.1},
{"f":4,"c":"C","t":"07-21 07","y":21.2},{"f":4,"c":"C","t":"07-21 17","y":28.2},
{"f":4,"c":"C","t":"07-22 07","y":22.4},{"f":4,"c":"C","t":"07-22 17","y":27.5},
{"f":4,"c":"C","t":"07-23 07","y":22.0},{"f":4,"c":"C","t":"07-23 17","y":27.1},
{"f":4,"c":"C","t":"07-24 07","y":23.2},{"f":4,"c":"C","t":"07-24 17","y":27.3},
{"f":4,"c":"C","t":"07-25 07","y":22.6},{"f":4,"c":"C","t":"07-25 17","y":27.3},
{"f":4,"c":"C","t":"07-26 07","y":23.0},{"f":4,"c":"C","t":"07-26 17","y":27.7},
{"f":4,"c":"C","t":"07-27 07","y":23.6},{"f":4,"c":"C","t":"07-27 17","y":29.0},
{"f":4,"c":"C","t":"07-28 07","y":23.0},{"f":4,"c":"C","t":"07-28 17","y":29.4},
{"f":4,"c":"C","t":"07-29 07","y":22.8},{"f":4,"c":"C","t":"07-29 17","y":28.0},
{"f":4,"c":"C","t":"07-30 07","y":23.4},{"f":4,"c":"C","t":"07-30 17","y":27.7},
{"f":4,"c":"C","t":"07-31 07","y":22.6},{"f":4,"c":"C","t":"07-31 17","y":27.5},
{"f":4,"c":"C","t":"08-01 07","y":22.2},{"f":4,"c":"C","t":"08-01 17","y":26.5},
{"f":4,"c":"C","t":"08-02 07","y":21.0},{"f":4,"c":"C","t":"08-02 17","y":25.7},
{"f":4,"c":"C","t":"08-03 07","y":20.2},{"f":4,"c":"C","t":"08-03 17","y":25.7},
{"f":4,"c":"C","t":"08-04 07","y":19.6},{"f":4,"c":"C","t":"08-04 17","y":25.7},
{"f":4,"c":"C","t":"08-05 07","y":20.6},{"f":4,"c":"C","t":"08-05 17","y":26.1},
{"f":4,"c":"C","t":"08-06 07","y":19.1},{"f":4,"c":"C","t":"08-06 17","y":26.5},
{"f":4,"c":"C","t":"08-07 07","y":20.2},{"f":4,"c":"C","t":"08-07 17","y":25.1},
{"f":4,"c":"C","t":"08-08 07","y":20.0},{"f":4,"c":"C","t":"08-08 17","y":25.5},
{"f":4,"c":"C","t":"08-09 07","y":20.6},{"f":4,"c":"C","t":"08-09 17","y":26.9},
{"f":4,"c":"C","t":"08-10 07","y":19.8},{"f":4,"c":"C","t":"08-10 17","y":25.9},
{"f":4,"c":"C","t":"08-11 07","y":20.4},{"f":4,"c":"C","t":"08-11 17","y":25.5},
{"f":4,"c":"C","t":"08-12 07","y":19.6},{"f":4,"c":"C","t":"08-12 17","y":25.7},
{"f":4,"c":"C","t":"08-13 07","y":20.2},{"f":4,"c":"C","t":"08-13 17","y":25.7},
{"f":4,"c":"C","t":"08-14 07","y":20.8},{"f":4,"c":"C","t":"08-14 17","y":24.8},
{"f":4,"c":"C","t":"08-15 07","y":21.6},{"f":4,"c":"C","t":"08-15 17","y":28.4},
{"f":4,"c":"C","t":"08-16 07","y":22.0},{"f":4,"c":"C","t":"08-16 17","y":26.3},
{"f":4,"c":"C","t":"08-17 07","y":21.2},{"f":4,"c":"C","t":"08-17 17","y":25.7},
{"f":4,"c":"C","t":"08-18 07","y":20.2},{"f":4,"c":"C","t":"08-18 17","y":27.5},
{"f":4,"c":"C","t":"08-19 07","y":21.0},{"f":4,"c":"C","t":"08-19 17","y":28.4},
{"f":4,"c":"C","t":"08-20 07","y":21.8},{"f":4,"c":"C","t":"08-20 17","y":26.7},
{"f":4,"c":"C","t":"08-21 07","y":21.4},{"f":4,"c":"C","t":"08-21 17","y":25.3},
{"f":4,"c":"C","t":"08-22 07","y":20.6},{"f":4,"c":"C","t":"08-22 17","y":24.1},
{"f":4,"c":"C","t":"08-23 07","y":18.2},{"f":4,"c":"C","t":"08-23 17","y":24.5},
{"f":4,"c":"C","t":"08-24 07","y":19.8},{"f":4,"c":"C","t":"08-24 17","y":24.1},
{"f":4,"c":"C","t":"08-25 07","y":20.4},{"f":4,"c":"C","t":"08-25 17","y":22.2},
{"f":4,"c":"C","t":"08-26 07","y":19.6},{"f":4,"c":"C","t":"08-26 17","y":21.6},
{"f":4,"c":"C","t":"08-27 07","y":18.8},{"f":4,"c":"C","t":"08-27 17","y":24.5},
{"f":4,"c":"C","t":"08-28 07","y":19.4},{"f":4,"c":"C","t":"08-28 17","y":24.9},
{"f":4,"c":"C","t":"08-29 07","y":20.4},{"f":4,"c":"C","t":"08-29 17","y":25.3},
{"f":4,"c":"C","t":"08-30 07","y":21.2},{"f":4,"c":"C","t":"08-30 17","y":25.1},
{"f":4,"c":"C","t":"08-31 07","y":21.0},{"f":4,"c":"C","t":"08-31 17","y":24.5},
{"f":4,"c":"C","t":"08-31 23","y":23.4},
{"f":4,"c":"R","t":"07-01 00","y":21.8},
{"f":4,"c":"R","t":"07-01 07","y":21.6},{"f":4,"c":"R","t":"07-01 17","y":23.2},
{"f":4,"c":"R","t":"07-02 07","y":22.2},{"f":4,"c":"R","t":"07-02 17","y":23.8},
{"f":4,"c":"R","t":"07-03 07","y":22.6},{"f":4,"c":"R","t":"07-03 17","y":24.0},
{"f":4,"c":"R","t":"07-04 07","y":22.8},{"f":4,"c":"R","t":"07-04 17","y":25.0},
{"f":4,"c":"R","t":"07-05 07","y":23.6},{"f":4,"c":"R","t":"07-05 17","y":26.4},
{"f":4,"c":"R","t":"07-06 07","y":24.0},{"f":4,"c":"R","t":"07-06 17","y":26.0},
{"f":4,"c":"R","t":"07-07 07","y":23.2},{"f":4,"c":"R","t":"07-07 17","y":24.6},
{"f":4,"c":"R","t":"07-08 07","y":23.4},{"f":4,"c":"R","t":"07-08 17","y":25.4},
{"f":4,"c":"R","t":"07-09 07","y":22.4},{"f":4,"c":"R","t":"07-09 17","y":24.0},
{"f":4,"c":"R","t":"07-10 07","y":21.6},{"f":4,"c":"R","t":"07-10 17","y":22.8},
{"f":4,"c":"R","t":"07-11 07","y":21.4},{"f":4,"c":"R","t":"07-11 17","y":24.8},
{"f":4,"c":"R","t":"07-12 07","y":22.0},{"f":4,"c":"R","t":"07-12 17","y":24.2},
{"f":4,"c":"R","t":"07-13 07","y":22.8},{"f":4,"c":"R","t":"07-13 17","y":26.0},
{"f":4,"c":"R","t":"07-14 07","y":23.2},{"f":4,"c":"R","t":"07-14 17","y":26.8},
{"f":4,"c":"R","t":"07-15 07","y":23.6},{"f":4,"c":"R","t":"07-15 17","y":26.0},
{"f":4,"c":"R","t":"07-16 07","y":23.4},{"f":4,"c":"R","t":"07-16 17","y":26.2},
{"f":4,"c":"R","t":"07-17 07","y":23.8},{"f":4,"c":"R","t":"07-17 17","y":25.8},
{"f":4,"c":"R","t":"07-18 07","y":23.0},{"f":4,"c":"R","t":"07-18 17","y":25.4},
{"f":4,"c":"R","t":"07-19 07","y":23.4},{"f":4,"c":"R","t":"07-19 17","y":26.0},
{"f":4,"c":"R","t":"07-20 07","y":22.6},{"f":4,"c":"R","t":"07-20 17","y":25.6},
{"f":4,"c":"R","t":"07-21 07","y":22.4},{"f":4,"c":"R","t":"07-21 17","y":27.0},
{"f":4,"c":"R","t":"07-22 07","y":23.2},{"f":4,"c":"R","t":"07-22 17","y":26.6},
{"f":4,"c":"R","t":"07-23 07","y":23.0},{"f":4,"c":"R","t":"07-23 17","y":26.4},
{"f":4,"c":"R","t":"07-24 07","y":23.8},{"f":4,"c":"R","t":"07-24 17","y":26.8},
{"f":4,"c":"R","t":"07-25 07","y":23.4},{"f":4,"c":"R","t":"07-25 17","y":26.6},
{"f":4,"c":"R","t":"07-26 07","y":23.8},{"f":4,"c":"R","t":"07-26 17","y":27.0},
{"f":4,"c":"R","t":"07-27 07","y":24.2},{"f":4,"c":"R","t":"07-27 17","y":27.8},
{"f":4,"c":"R","t":"07-28 07","y":24.0},{"f":4,"c":"R","t":"07-28 17","y":28.0},
{"f":4,"c":"R","t":"07-29 07","y":23.6},{"f":4,"c":"R","t":"07-29 17","y":27.2},
{"f":4,"c":"R","t":"07-30 07","y":24.0},{"f":4,"c":"R","t":"07-30 17","y":27.0},
{"f":4,"c":"R","t":"07-31 07","y":23.4},{"f":4,"c":"R","t":"07-31 17","y":26.6},
{"f":4,"c":"R","t":"08-01 07","y":23.0},{"f":4,"c":"R","t":"08-01 17","y":26.0},
{"f":4,"c":"R","t":"08-02 07","y":22.6},{"f":4,"c":"R","t":"08-02 17","y":25.2},
{"f":4,"c":"R","t":"08-03 07","y":22.4},{"f":4,"c":"R","t":"08-03 17","y":25.0},
{"f":4,"c":"R","t":"08-04 07","y":22.0},{"f":4,"c":"R","t":"08-04 17","y":25.4},
{"f":4,"c":"R","t":"08-05 07","y":22.6},{"f":4,"c":"R","t":"08-05 17","y":25.6},
{"f":4,"c":"R","t":"08-06 07","y":22.0},{"f":4,"c":"R","t":"08-06 17","y":25.8},
{"f":4,"c":"R","t":"08-07 07","y":22.4},{"f":4,"c":"R","t":"08-07 17","y":24.8},
{"f":4,"c":"R","t":"08-08 07","y":22.2},{"f":4,"c":"R","t":"08-08 17","y":25.2},
{"f":4,"c":"R","t":"08-09 07","y":22.6},{"f":4,"c":"R","t":"08-09 17","y":26.0},
{"f":4,"c":"R","t":"08-10 07","y":22.2},{"f":4,"c":"R","t":"08-10 17","y":25.4},
{"f":4,"c":"R","t":"08-11 07","y":22.6},{"f":4,"c":"R","t":"08-11 17","y":25.0},
{"f":4,"c":"R","t":"08-12 07","y":22.0},{"f":4,"c":"R","t":"08-12 17","y":25.2},
{"f":4,"c":"R","t":"08-13 07","y":22.4},{"f":4,"c":"R","t":"08-13 17","y":25.4},
{"f":4,"c":"R","t":"08-14 07","y":22.6},{"f":4,"c":"R","t":"08-14 17","y":24.4},
{"f":4,"c":"R","t":"08-15 07","y":23.2},{"f":4,"c":"R","t":"08-15 17","y":27.0},
{"f":4,"c":"R","t":"08-16 07","y":23.0},{"f":4,"c":"R","t":"08-16 17","y":25.8},
{"f":4,"c":"R","t":"08-17 07","y":22.4},{"f":4,"c":"R","t":"08-17 17","y":25.4},
{"f":4,"c":"R","t":"08-18 07","y":22.2},{"f":4,"c":"R","t":"08-18 17","y":26.4},
{"f":4,"c":"R","t":"08-19 07","y":22.6},{"f":4,"c":"R","t":"08-19 17","y":26.8},
{"f":4,"c":"R","t":"08-20 07","y":22.8},{"f":4,"c":"R","t":"08-20 17","y":25.6},
{"f":4,"c":"R","t":"08-21 07","y":22.4},{"f":4,"c":"R","t":"08-21 17","y":24.8},
{"f":4,"c":"R","t":"08-22 07","y":21.8},{"f":4,"c":"R","t":"08-22 17","y":23.8},
{"f":4,"c":"R","t":"08-23 07","y":20.8},{"f":4,"c":"R","t":"08-23 17","y":23.2},
{"f":4,"c":"R","t":"08-24 07","y":21.2},{"f":4,"c":"R","t":"08-24 17","y":23.0},
{"f":4,"c":"R","t":"08-25 07","y":20.8},{"f":4,"c":"R","t":"08-25 17","y":22.0},
{"f":4,"c":"R","t":"08-26 07","y":20.4},{"f":4,"c":"R","t":"08-26 17","y":21.2},
{"f":4,"c":"R","t":"08-27 07","y":20.0},{"f":4,"c":"R","t":"08-27 17","y":23.2},
{"f":4,"c":"R","t":"08-28 07","y":20.6},{"f":4,"c":"R","t":"08-28 17","y":23.8},
{"f":4,"c":"R","t":"08-29 07","y":21.6},{"f":4,"c":"R","t":"08-29 17","y":24.2},
{"f":4,"c":"R","t":"08-30 07","y":22.0},{"f":4,"c":"R","t":"08-30 17","y":24.0},
{"f":4,"c":"R","t":"08-31 07","y":22.0},{"f":4,"c":"R","t":"08-31 17","y":23.8},
{"f":4,"c":"R","t":"08-31 23","y":23.0}
]},
"transform":[{"lookup":"f","from":{"data":{"name":"pos"},"key":"f","fields":["r","k"]}}],
"facet":{
 "row":{"field":"r","type":"ordinal","header":{"title":"Hourly Temperature (C)","labels":false,"titleOrient":"left","titlePadding":-12}},
 "column":{"field":"k","type":"ordinal","header":{"title":"Day","labels":false,"titleOrient":"bottom","titlePadding":-4}}
},
"spacing":{"row":7,"column":7},
"spec":{
 "width":374,"height":291,
 "layer":[
  {"transform":[{"filter":"isValid(datum.y)"}],
   "mark":{"type":"line","strokeWidth":1.1},
   "encoding":{
    "x":{"field":"t","type":"temporal",
     "scale":{"domain":[{"year":1900,"month":6,"date":27,"hours":21,"minutes":39},{"year":1900,"month":9,"date":4,"hours":1,"minutes":21}]},
     "axis":{"title":null,"format":"%b %d",
      "values":[{"year":1900,"month":7,"date":1},{"year":1900,"month":7,"date":8},{"year":1900,"month":7,"date":15},{"year":1900,"month":7,"date":23,"hours":12},{"year":1900,"month":8,"date":1},{"year":1900,"month":8,"date":8},{"year":1900,"month":8,"date":15},{"year":1900,"month":8,"date":23,"hours":12},{"year":1900,"month":9,"date":1}],
      "labelExpr":"(date(datum.value) == 1 || date(datum.value) == 15) ? datum.label : ''",
      "gridWidth":{"condition":{"test":"date(datum.value) == 1 || date(datum.value) == 15","value":1.5},"value":0.7},
      "tickColor":{"condition":{"test":"date(datum.value) == 1 || date(datum.value) == 15","value":"#333333"},"value":"transparent"},
      "labelFlush":false,"labelOverlap":false}},
    "y":{"field":"y","type":"quantitative",
     "scale":{"domain":[-1.5,34.2],"nice":false,"zero":false},
     "axis":{"title":null,"values":[0,5,10,15,20,25,30],
      "labelExpr":"datum.value % 10 == 0 ? datum.label : ''",
      "gridWidth":{"condition":{"test":"datum.value % 10 == 0","value":1.5},"value":0.7},
      "tickColor":{"condition":{"test":"datum.value % 10 == 0","value":"#333333"},"value":"transparent"}}},
    "color":{"field":"c","type":"nominal",
     "scale":{"domain":["C","R"],"range":["#ff0000","#0000ff"]},
     "legend":{"title":null,"orient":"none","direction":"horizontal","legendX":269,"legendY":645,
      "symbolType":"stroke","symbolSize":289,"symbolStrokeWidth":1.2,
      "labelExpr":"datum.value == 'C' ? 'Curent Condition' : 'Restored Condition'",
      "columnPadding":0,"labelOffset":1}}
   }},
  {"transform":[{"filter":"isValid(datum.std)"}],
   "mark":{"type":"rule","color":"#3a3a3a","strokeWidth":1.4},
   "encoding":{"y":{"field":"std","type":"quantitative"}}},
  {"transform":[{"filter":"isValid(datum.site)"}],
   "mark":{"type":"rect","color":"#d9d9d9"},
   "encoding":{"y":{"datum":31.5},"y2":{"datum":34.2}}},
  {"transform":[{"filter":"isValid(datum.site)"}],
   "mark":{"type":"text","fontSize":11,"color":"#1a1a1a","baseline":"middle"},
   "encoding":{"y":{"datum":32.85},"text":{"field":"site"}}},
  {"transform":[{"filter":"isValid(datum.note)"}],
   "mark":{"type":"text","fontSize":29,"color":"#ffffff","align":"left","baseline":"middle"},
   "encoding":{"x":{"datum":{"year":1900,"month":6,"date":28,"hours":19}},"y":{"datum":29.3},"text":{"field":"note"}}}
 ]
},
"config":{
 "font":"Liberation Sans",
 "view":{"fill":"#ebebeb","stroke":null},
 "axis":{"domain":false,"grid":true,"gridColor":"#ffffff","tickSize":4,"tickWidth":1,"labelFontSize":11,"labelColor":"#4d4d4d","labelPadding":2,"labelFont":"Liberation Sans","minExtent":0},
 "header":{"titleFont":"Liberation Sans","titleFontSize":13,"titleFontWeight":"normal","titleColor":"#000000","labelPadding":0},
 "legend":{"labelFont":"Liberation Sans","labelFontSize":11,"labelColor":"#1a1a1a"}
}
}
